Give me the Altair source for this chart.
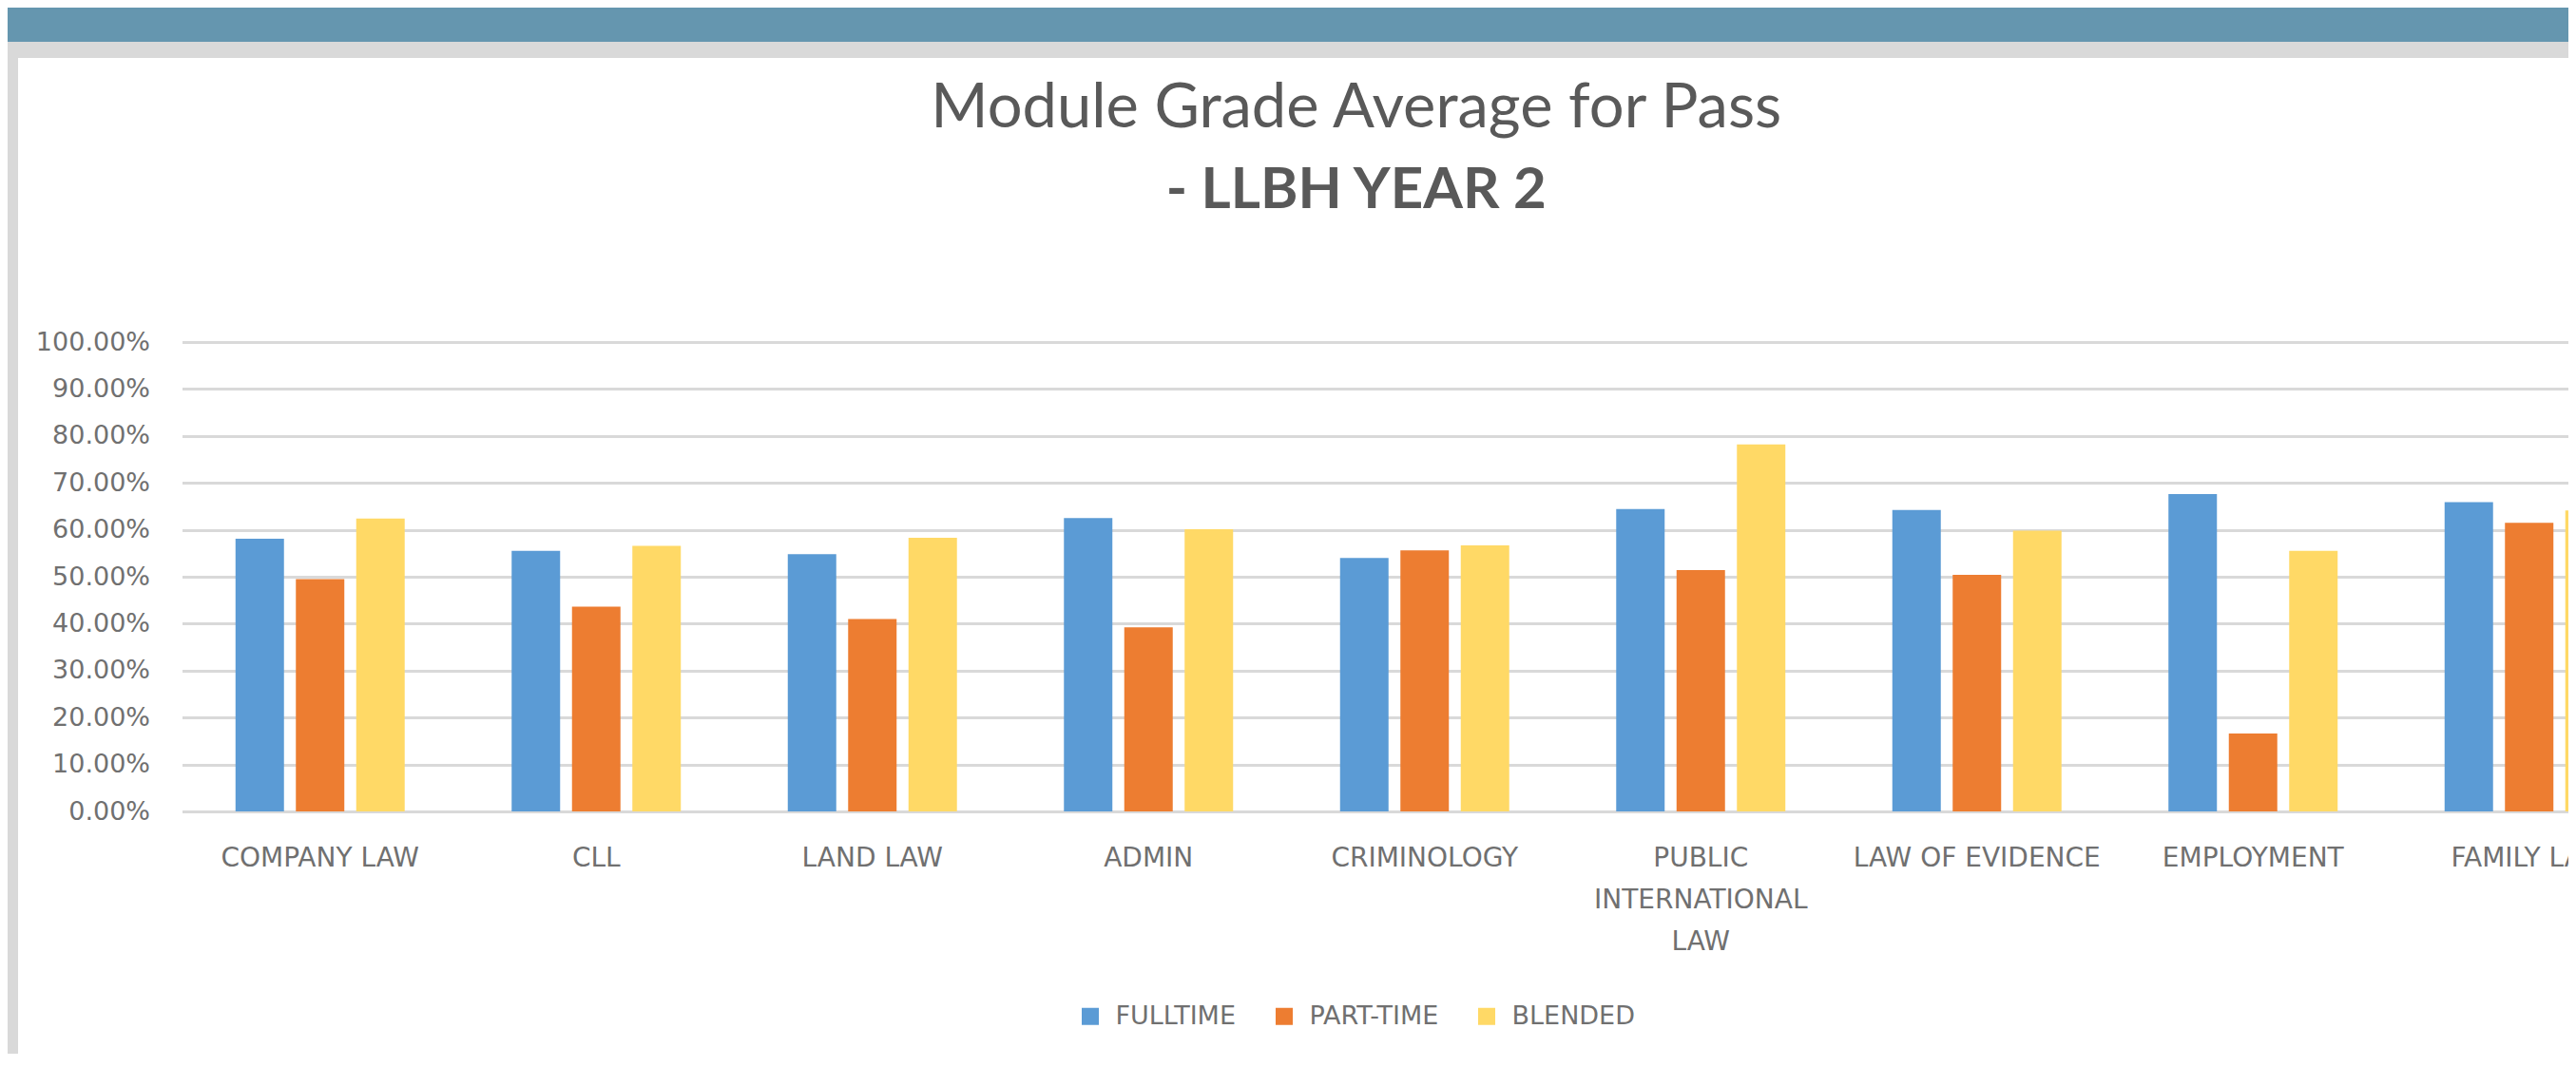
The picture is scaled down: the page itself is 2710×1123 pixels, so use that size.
import altair as alt
import pandas as pd

modules = ["COMPANY LAW", "CLL", "LAND LAW", "ADMIN", "CRIMINOLOGY",
           "PUBLIC INTERNATIONAL LAW", "LAW OF EVIDENCE", "EMPLOYMENT", "FAMILY LAW"]
fulltime = [0.581, 0.555, 0.548, 0.625, 0.540, 0.644, 0.642, 0.676, 0.659]
parttime = [0.495, 0.436, 0.410, 0.392, 0.556, 0.514, 0.504, 0.166, 0.615]
blended = [0.624, 0.566, 0.583, 0.601, 0.567, 0.782, 0.598, 0.555, 0.641]
series = ["FULLTIME", "PART-TIME", "BLENDED"]
colors = ["#5B9BD5", "#ED7D31", "#FFD966"]
y_ticks = [0.0, 0.1, 0.2, 0.3, 0.4, 0.5, 0.6, 0.7, 0.8, 0.9, 1.0]

rows = []
for i, m in enumerate(modules):
    for s, vals in zip(series, [fulltime, parttime, blended]):
        rows.append({"module": m, "mode": s, "grade": vals[i]})
df = pd.DataFrame(rows)

# plot area: the last category runs past the right edge of the page, as in the reference
STEP = 290.5
FULL_W = STEP * len(modules)
W, H = 2510.5, 494
PL, PT, PR, PB = 183.5, 352, 0, 255
FONT = "DejaVu Sans"
TFONT = "Lato"
TXT = "#707070"

bars = alt.Chart(df).mark_bar().encode(
    x=alt.X("module:N", sort=modules,
            scale=alt.Scale(range=[0, FULL_W], paddingInner=0, paddingOuter=0),
            axis=alt.Axis(title=None, labelAngle=0, ticks=False, grid=False,
                          domain=True, domainColor="#D9D9D9", domainWidth=3,
                          labelPadding=35, labelFont=FONT, labelFontSize=28,
                          labelColor=TXT, labelLineHeight=44, labelLimit=500,
                          labelBaseline="top",
                          labelExpr="datum.label == 'PUBLIC INTERNATIONAL LAW' ? ['PUBLIC', 'INTERNATIONAL', 'LAW'] : datum.label")),
    xOffset=alt.XOffset("mode:N", sort=series,
                        scale=alt.Scale(domain=series, paddingInner=0.197, paddingOuter=0.886)),
    y=alt.Y("grade:Q", scale=alt.Scale(domain=[0, 1]),
            axis=alt.Axis(title=None, values=y_ticks, format=".2%", grid=True,
                          gridColor="#D9D9D9", gridWidth=3, domain=False, ticks=False,
                          labelPadding=34, labelFont=FONT, labelFontSize=27,
                          labelColor=TXT)),
    color=alt.Color("mode:N", sort=series,
                    scale=alt.Scale(domain=series, range=colors),
                    legend=alt.Legend(title=None, orient="none", direction="horizontal",
                                      legendX=942, legendY=696,
                                      symbolType="square", symbolSize=324,
                                      symbolStrokeWidth=0, labelFont=FONT,
                                      labelFontSize=27, labelColor=TXT,
                                      labelOffset=13, columnPadding=37)),
)

deco_data = alt.Data(values=[{"k": 1}])
teal = alt.Chart(deco_data).mark_rect(color="#6596AF").encode(
    x=alt.value(-PL), x2=alt.value(W + 20), y=alt.value(-PT), y2=alt.value(-316))
grayband = alt.Chart(deco_data).mark_rect(color="#D9D9D9").encode(
    x=alt.value(-PL), x2=alt.value(W + 20), y=alt.value(-316), y2=alt.value(-299))
grayleft = alt.Chart(deco_data).mark_rect(color="#D9D9D9").encode(
    x=alt.value(-PL), x2=alt.value(-172.5), y=alt.value(-316), y2=alt.value(H + PB))

chart = alt.layer(teal, grayband, grayleft, bars).properties(
    width=W, height=H,
    padding={"left": PL, "top": PT, "right": PR, "bottom": PB},
    autosize=alt.AutoSizeParams(type="none"),
    background="white",
    title=alt.TitleParams(
        text="Module Grade Average for Pass", subtitle="- LLBH YEAR 2",
        font=TFONT, fontSize=65, fontWeight="normal", color="#595959",
        subtitleFont=TFONT, subtitleFontSize=60, subtitleFontWeight="bold",
        subtitleColor="#595959", anchor="middle", dx=-20, offset=0, dy=224,
        subtitlePadding=24),
).configure_view(stroke=None)

chart.save("out.html", embed_options={"renderer": "svg", "actions": False})
